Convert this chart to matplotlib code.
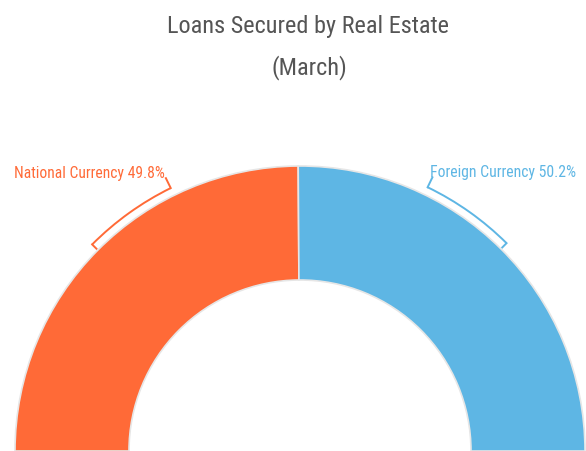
import os
import numpy as np
import matplotlib
matplotlib.use("Agg")
import matplotlib.pyplot as plt
from matplotlib import font_manager as fm
from matplotlib.patches import Arc

# chart data
categories = ["National Currency", "Foreign Currency"]
shares = [49.8, 50.2]
colors = ["#FF6A37", "#5EB6E4"]
title = ["Loans Secured by Real Estate", "(March)"]

fig = plt.figure(figsize=(5.86, 4.52), dpi=100)
ax = fig.add_axes([0, 0, 1, 1])
ax.axis("off")
renderer = fig.canvas.get_renderer()

# the reference uses a narrow sans: among the plain sans families pick the face
# whose width / cap-height ratio is closest to the reference label (151px / 11.8px)
sample = "National Currency 49.8%"
target = 151 / 11.8
families = ("Roboto", "Open Sans", "Lato", "Inter", "Noto Sans", "Liberation Sans", "DejaVu Sans")
skip = ("Bold", "Black", "Medium", "Heavy", "Thin", "Italic", "Oblique", "ExtraLight", "Mono", "CJK")
best, best_d = fm.FontProperties(family="Roboto"), None
for f in fm.fontManager.ttflist:
    base = os.path.basename(f.fname)
    if not f.name.startswith(families) or any(k in base or k in f.name for k in skip):
        continue
    if f.style != "normal":
        continue
    try:
        ft = fm.get_font(f.fname)
        ft.set_size(12, 72)
        ft.set_text(sample)
        w = ft.get_width_height()[0]
        ft.set_text("N")
        h = ft.get_width_height()[1]
    except Exception:
        continue
    if h <= 0:
        continue
    d = abs(w / h - target)
    if best_d is None or d < best_d:
        best, best_d = fm.FontProperties(fname=f.fname), d
font = best

cx, cy = 300, 0
R = 285
ring = 114

# half donut: the hidden slice takes the lower half
vals = shares + [sum(shares)]
wedges, _ = ax.pie(vals, center=(cx, cy), radius=R, startangle=180,
                   counterclock=False,
                   colors=colors + ["none"],
                   wedgeprops=dict(width=ring, edgecolor="#e6e6e6", linewidth=1.2))
wedges[-1].set_edgecolor("none")
ax.set_xlim(0, 586)
ax.set_ylim(0, 452)
ax.set_aspect("equal")


def fit(txt, width_px):
    # scale the font so the text spans the measured width
    w = txt.get_window_extent(renderer).width
    txt.set_fontsize(txt.get_fontsize() * width_px / w)


# bracket labels
label_widths = [151, 147]
total = sum(shares)
start = 180
for name, v, col, lw_px in zip(categories, shares, colors, label_widths):
    span = 180 * v / total
    mid = start - span / 2
    start -= span
    # bracket goes from the slice middle towards the top
    other = mid - 19 if mid > 90 else mid + 19
    r_arc = R + 8
    a1, a2 = sorted([mid, other])
    ax.add_patch(Arc((cx, cy), 2 * r_arc, 2 * r_arc, theta1=a1, theta2=a2,
                     color=col, lw=1.4))
    # inward tick at slice middle
    t = np.deg2rad(mid)
    ax.plot([cx + r_arc * np.cos(t), cx + (R + 2) * np.cos(t)],
            [cy + r_arc * np.sin(t), cy + (R + 2) * np.sin(t)], color=col, lw=1.4)
    # outward tick toward the label
    t = np.deg2rad(other)
    x1, y1 = cx + r_arc * np.cos(t), cy + r_arc * np.sin(t)
    x2, y2 = cx + (R + 19) * np.cos(t), cy + (R + 19) * np.sin(t)
    ax.plot([x1, x2], [y1, y2], color=col, lw=1.4)
    ha = "right" if mid > 90 else "left"
    t_lab = ax.text(x2 + (-1 if ha == "right" else -2), y2 + 6, f"{name} {v}%",
                    ha=ha, va="center", color=col, fontsize=12.5,
                    fontproperties=font)
    fit(t_lab, lw_px)

t1 = fig.text(308 / 586, 1 - 26 / 452, title[0], ha="center", va="center",
              color="#555555", fontproperties=font, fontsize=18)
fit(t1, 282)
t2 = fig.text(309 / 586, 1 - 68 / 452, title[1], ha="center", va="center",
              color="#555555", fontproperties=font, fontsize=t1.get_fontsize())

fig.savefig("out.png", dpi=100)
